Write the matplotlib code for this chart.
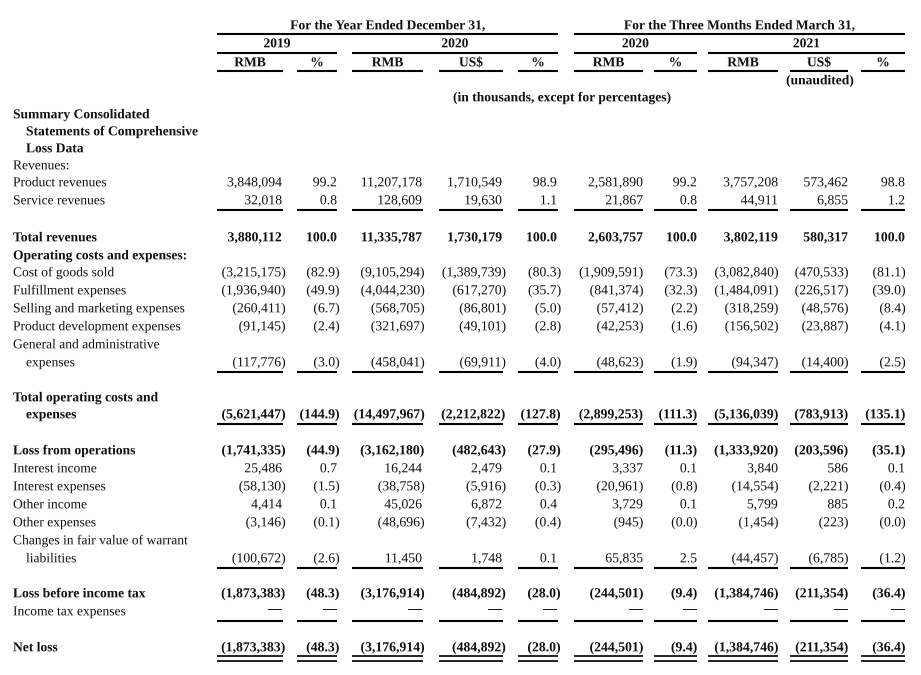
import math
import matplotlib
matplotlib.use("Agg")
import matplotlib.pyplot as plt
import matplotlib.patheffects as pe

plt.rcParams['font.family'] = ['Liberation Serif', 'DejaVu Serif']

# ---------------- data ----------------
col_headers = ["RMB", "%", "RMB", "US$", "%", "RMB", "%", "RMB", "US$", "%"]
col_kinds = ["amt", "pct", "amt", "amt", "pct", "amt", "pct", "amt", "amt", "pct"]
group_titles = ["For the Year Ended December 31,", "For the Three Months Ended March 31,"]
year_labels = ["2019", "2020", "2020", "2021"]

product_revenues = [3848094, 99.2, 11207178, 1710549, 98.9, 2581890, 99.2, 3757208, 573462, 98.8]
service_revenues = [32018, 0.8, 128609, 19630, 1.1, 21867, 0.8, 44911, 6855, 1.2]
total_revenues = [3880112, 100.0, 11335787, 1730179, 100.0, 2603757, 100.0, 3802119, 580317, 100.0]
cost_of_goods_sold = [-3215175, -82.9, -9105294, -1389739, -80.3, -1909591, -73.3, -3082840, -470533, -81.1]
fulfillment_expenses = [-1936940, -49.9, -4044230, -617270, -35.7, -841374, -32.3, -1484091, -226517, -39.0]
selling_marketing = [-260411, -6.7, -568705, -86801, -5.0, -57412, -2.2, -318259, -48576, -8.4]
product_development = [-91145, -2.4, -321697, -49101, -2.8, -42253, -1.6, -156502, -23887, -4.1]
general_admin = [-117776, -3.0, -458041, -69911, -4.0, -48623, -1.9, -94347, -14400, -2.5]
total_operating = [-5621447, -144.9, -14497967, -2212822, -127.8, -2899253, -111.3, -5136039, -783913, -135.1]
loss_from_operations = [-1741335, -44.9, -3162180, -482643, -27.9, -295496, -11.3, -1333920, -203596, -35.1]
interest_income = [25486, 0.7, 16244, 2479, 0.1, 3337, 0.1, 3840, 586, 0.1]
interest_expenses = [-58130, -1.5, -38758, -5916, -0.3, -20961, -0.8, -14554, -2221, -0.4]
other_income = [4414, 0.1, 45026, 6872, 0.4, 3729, 0.1, 5799, 885, 0.2]
other_expenses = [-3146, -0.1, -48696, -7432, -0.4, -945, -0.0, -1454, -223, -0.0]
warrant_fv_change = [-100672, -2.6, 11450, 1748, 0.1, 65835, 2.5, -44457, -6785, -1.2]
loss_before_tax = [-1873383, -48.3, -3176914, -484892, -28.0, -244501, -9.4, -1384746, -211354, -36.4]
income_tax = [None] * 10
net_loss = [-1873383, -48.3, -3176914, -484892, -28.0, -244501, -9.4, -1384746, -211354, -36.4]

# label lines: (text, y, bold, indent)
label_lines = [
    ("Summary Consolidated", 114, True, 0),
    ("Statements of Comprehensive", 131, True, 1),
    ("Loss Data", 148, True, 1),
    ("Revenues:", 165, False, 0),
    ("Product revenues", 182, False, 0),
    ("Service revenues", 200, False, 0),
    ("Total revenues", 237, True, 0),
    ("Operating costs and expenses:", 255, True, 0),
    ("Cost of goods sold", 272, False, 0),
    ("Fulfillment expenses", 290, False, 0),
    ("Selling and marketing expenses", 308, False, 0),
    ("Product development expenses", 326, False, 0),
    ("General and administrative", 344, False, 0),
    ("expenses", 362, False, 1),
    ("Total operating costs and", 397, True, 0),
    ("expenses", 414, True, 1),
    ("Loss from operations", 450, True, 0),
    ("Interest income", 468, False, 0),
    ("Interest expenses", 486, False, 0),
    ("Other income", 504, False, 0),
    ("Other expenses", 522, False, 0),
    ("Changes in fair value of warrant", 540, False, 0),
    ("liabilities", 558, False, 1),
    ("Loss before income tax", 593, True, 0),
    ("Income tax expenses", 611, False, 0),
    ("Net loss", 647, True, 0),
]

# data rows: (values, y, bold, underline)
data_rows = [
    (product_revenues, 182, False, None),
    (service_revenues, 200, False, "single"),
    (total_revenues, 237, True, None),
    (cost_of_goods_sold, 272, False, None),
    (fulfillment_expenses, 290, False, None),
    (selling_marketing, 308, False, None),
    (product_development, 326, False, None),
    (general_admin, 362, False, "single"),
    (total_operating, 414, True, "single"),
    (loss_from_operations, 450, True, None),
    (interest_income, 468, False, None),
    (interest_expenses, 486, False, None),
    (other_income, 504, False, None),
    (other_expenses, 522, False, None),
    (warrant_fv_change, 558, False, "single"),
    (loss_before_tax, 593, True, None),
    (income_tax, 611, False, "single"),
    (net_loss, 647, True, "double"),
]

# ---------------- layout ----------------
W, H = 921, 675
col_spans = [(217, 283), (297, 337), (352, 423), (439, 503), (518, 558),
             (574, 643), (654, 697), (708, 778), (790, 848), (861, 905)]
col_right = [282, 337, 422, 502, 557, 643, 697, 778, 848, 905]
col_hang = [3.5, 2.5, 2.5, 4.0, 4.0, 0.3, 0.3, 0.3, 0.3, 0.5]
group_spans = [(217, 558), (574, 905)]
year_spans = [(217, 337), (352, 558), (574, 697), (708, 905)]

FS = 9.75
NFS = 9.9
BASE = 4.3
LW = 1.5
PE = [pe.Normal()]

fig = plt.figure(figsize=(W / 100, H / 100), dpi=100)
ax = fig.add_axes([0, 0, 1, 1])
ax.set_xlim(0, W)
ax.set_ylim(H, 0)
ax.axis('off')


def hline(x0, x1, y, lw=LW):
    ax.plot([x0, x1], [y, y], color='black', lw=lw, solid_capstyle='butt')


def put(x, y, s, ha, size, bold):
    ax.text(x, y, s, ha=ha, va='baseline', fontsize=size, color='#111111',
            fontweight='bold' if bold else 'normal', path_effects=PE)


def fmt(v, kind):
    if v is None:
        return "\u2014"
    neg = math.copysign(1.0, v) < 0
    s = f"{abs(v):,.0f}" if kind == "amt" else f"{abs(v):.1f}"
    return f"({s})" if neg else s


# headers
for t, (x0, x1) in zip(group_titles, group_spans):
    put((x0 + x1) / 2, 25 + BASE, t, 'center', FS, True)
    hline(x0, x1, 34)
for t, (x0, x1) in zip(year_labels, year_spans):
    put((x0 + x1) / 2, 43 + BASE, t, 'center', FS, True)
    hline(x0, x1, 52.5)
for t, (x0, x1) in zip(col_headers, col_spans):
    put((x0 + x1) / 2, 62 + BASE, t, 'center', FS, True)
    hline(x0, x1, 71)
put((col_spans[8][0] + col_spans[8][1]) / 2 + 1, 80 + BASE, "(unaudited)", 'center', FS, True)
put(562, 97 + BASE, "(in thousands, except for percentages)", 'center', FS, True)

# labels
for text, y, bold, indent in label_lines:
    put(13 + 13 * indent, y + BASE, text, 'left', FS, bold)

# values
for vals, y, bold, ul in data_rows:
    for i, v in enumerate(vals):
        s = fmt(v, col_kinds[i])
        x = col_right[i]
        if s.startswith("("):
            x += col_hang[i]
        yy = y + BASE
        if v is None:
            yy = y + 2
        put(x, yy, s, 'right', NFS, bold)
    if ul == "single":
        for x0, x1 in col_spans:
            hline(x0, x1, y + 9.5)
    elif ul == "double":
        for x0, x1 in col_spans:
            hline(x0, x1, y + 9, lw=1.2)
            hline(x0, x1, y + 14, lw=1.2)

fig.savefig("out.png", dpi=100, facecolor='white')
